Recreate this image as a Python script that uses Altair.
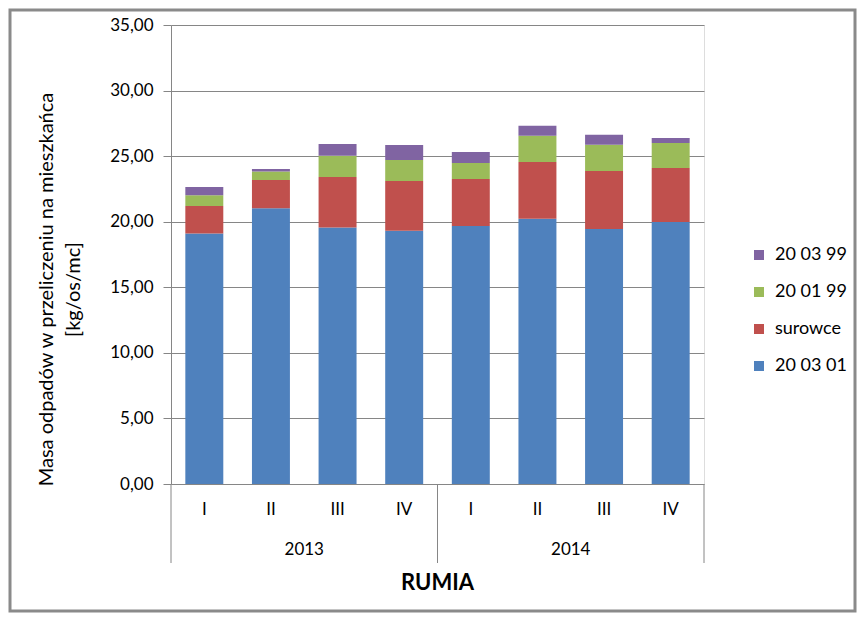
import altair as alt
import pandas as pd

# ---- data ----
years = ["2013", "2013", "2013", "2013", "2014", "2014", "2014", "2014"]
quarters = ["I", "II", "III", "IV", "I", "II", "III", "IV"]
year_labels = ["2013", "2014"]
series_names = ["20 03 01", "surowce", "20 01 99", "20 03 99"]
s_200301 = [19.10, 21.02, 19.55, 19.32, 19.67, 20.23, 19.44, 19.98]
s_surowce = [2.10, 2.16, 3.86, 3.78, 3.59, 4.32, 4.43, 4.12]
s_200199 = [0.81, 0.64, 1.62, 1.61, 1.22, 2.01, 2.00, 1.90]
s_200399 = [0.64, 0.20, 0.90, 1.14, 0.84, 0.76, 0.77, 0.38]
series_colors = ["#4F81BD", "#C0504D", "#9BBB59", "#8064A2"]
y_title = ["Masa odpadów w przeliczeniu na mieszkańca", "[kg/os/mc]"]
x_title = ["RUMIA"]

FONT = "Lato"
GRID = "#868686"
n = len(quarters)
per_year = n // len(year_labels)

values = [s_200301, s_surowce, s_200199, s_200399]
rows = []
for i in range(n):
    for k, name in enumerate(series_names):
        rows.append({"idx": i, "year": years[i], "quarter": quarters[i],
                     "series": name, "order": k, "value": values[k][i]})
df = pd.DataFrame(rows)

df_q = pd.DataFrame({"idx": list(range(n)), "quarter": quarters})
df_y = pd.DataFrame({"k": list(range(len(year_labels))), "year": year_labels})
df_s = pd.DataFrame({"k": list(range(len(year_labels) + 1))})
df_t = pd.DataFrame({"t": x_title})

W, H = 533, 459
xscale = alt.Scale(domain=[0, n], nice=False, zero=False)

bars = (
    alt.Chart(df)
    .transform_stack(stack="value", groupby=["idx"], sort=[alt.SortField("order")], as_=["v0", "v1"])
    .transform_calculate(b0="datum.idx + 0.215", b1="datum.idx + 0.785")
    .mark_bar()
    .encode(
        x=alt.X("b0:Q", scale=xscale,
                axis=alt.Axis(grid=False, labels=False, ticks=False, domainColor=GRID, title=None)),
        x2="b1:Q",
        y=alt.Y("v0:Q", scale=alt.Scale(domain=[0, 35], nice=False),
                axis=alt.Axis(values=[0, 5, 10, 15, 20, 25, 30, 35],
                              labelExpr="replace(format(datum.value, '.2f'), '.', ',')",
                              labelFont=FONT, labelFontSize=17, labelColor="#000000",
                              labelPadding=10, tickSize=8, tickColor=GRID, domainColor=GRID,
                              gridColor=GRID, grid=True,
                              title=y_title, titleFont=FONT, titleFontSize=20,
                              titleFontWeight="normal", titleColor="#000000",
                              titleAngle=270, titleX=-125, titleY=264,
                              titleAlign="center", titleBaseline="middle", titleLineHeight=27)),
        y2="v1:Q",
        color=alt.Color("series:N",
                        scale=alt.Scale(domain=series_names[::-1], range=series_colors[::-1]),
                        legend=alt.Legend(title=None, orient="none", legendX=579, legendY=221,
                                          symbolType="square", symbolSize=100, symbolStrokeWidth=0,
                                          labelFont=FONT, labelFontSize=18, labelColor="#000000",
                                          labelOffset=7, rowPadding=19)),
    )
)

q_text = (
    alt.Chart(df_q)
    .transform_calculate(pos="datum.idx + 0.5")
    .mark_text(font=FONT, fontSize=17, color="#000000", baseline="middle")
    .encode(x=alt.X("pos:Q", scale=xscale, axis=None), y=alt.value(485), text="quarter:N")
)

y_text = (
    alt.Chart(df_y)
    .transform_calculate(pos=f"datum.k * {per_year} + {per_year} / 2")
    .mark_text(font=FONT, fontSize=17, color="#000000", baseline="middle")
    .encode(x=alt.X("pos:Q", scale=xscale, axis=None), y=alt.value(525), text="year:N")
)

seps = (
    alt.Chart(df_s)
    .transform_calculate(pos=f"datum.k * {per_year}")
    .mark_rule(color=GRID, strokeWidth=1)
    .encode(x=alt.X("pos:Q", scale=xscale, axis=None), y=alt.value(H), y2=alt.value(H + 79))
)

title_text = (
    alt.Chart(df_t)
    .mark_text(font=FONT, fontSize=22, fontWeight="bold", color="#000000", baseline="middle")
    .encode(x=alt.value(W / 2), y=alt.value(558), text="t:N")
)

frame = (
    alt.Chart(df_t)
    .mark_rect(fill=None, stroke="#8a8a8a", strokeWidth=3)
    .encode(x=alt.value(-161), x2=alt.value(W + 151), y=alt.value(-15), y2=alt.value(H + 127))
)

chart = (
    alt.layer(bars, q_text, y_text, seps, title_text, frame)
    .properties(width=W, height=H,
                autosize=alt.AutoSizeParams(type="none"),
                padding={"left": 163, "top": 17, "right": 154, "bottom": 129})
    .configure_view(strokeWidth=0)
    .configure(background="#ffffff")
)

chart.save("out.html", embed_options={"renderer": "svg", "actions": False})
